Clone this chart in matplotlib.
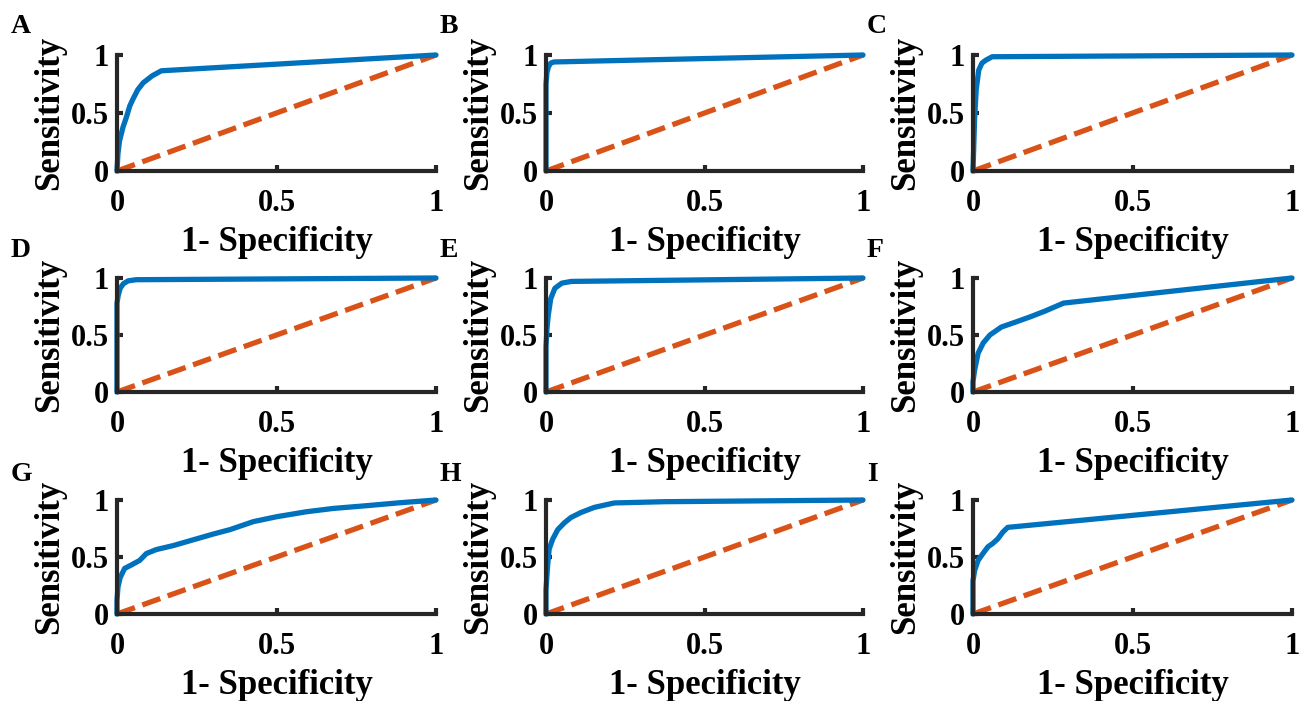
import numpy as np
import matplotlib
matplotlib.use('Agg')
import matplotlib.pyplot as plt

plt.rcParams['font.family'] = ['Liberation Serif', 'DejaVu Serif']
plt.rcParams['font.weight'] = 'bold'

# ROC curves (x = 1 - specificity, y = sensitivity)
fpr_A = [0, 0.003, 0.008, 0.019, 0.029, 0.04, 0.05, 0.065, 0.082, 0.11, 0.139, 1]
tpr_A = [0, 0.15, 0.26, 0.38, 0.46, 0.56, 0.62, 0.70, 0.76, 0.82, 0.864, 1]

fpr_B = [0, 0, 0.003, 0.008, 0.015, 0.025, 1]
tpr_B = [0, 0.75, 0.85, 0.9, 0.93, 0.94, 1]

fpr_C = [0, 0.005, 0.01, 0.018, 0.028, 0.04, 0.06, 1]
tpr_C = [0, 0.45, 0.7, 0.87, 0.93, 0.955, 0.985, 1]

fpr_D = [0, 0, 0.004, 0.01, 0.02, 0.035, 0.06, 1]
tpr_D = [0, 0.78, 0.85, 0.91, 0.95, 0.975, 0.985, 1]

fpr_E = [0, 0, 0.003, 0.007, 0.015, 0.028, 0.05, 0.08, 1]
tpr_E = [0, 0.4, 0.55, 0.67, 0.82, 0.91, 0.955, 0.97, 1]

fpr_F = [0, 0, 0.005, 0.016, 0.032, 0.053, 0.089, 0.13, 0.18, 0.226, 0.284, 1]
tpr_F = [0, 0.09, 0.19, 0.34, 0.43, 0.5, 0.57, 0.61, 0.66, 0.71, 0.78, 1]

fpr_G = [0, 0, 0.003, 0.01, 0.024, 0.045, 0.071, 0.092, 0.123, 0.176, 0.238,
         0.30, 0.354, 0.427, 0.5, 0.594, 0.678, 0.782, 0.887, 1]
tpr_G = [0, 0.12, 0.235, 0.32, 0.4, 0.43, 0.47, 0.53, 0.565, 0.60, 0.65,
         0.70, 0.74, 0.81, 0.853, 0.897, 0.926, 0.95, 0.976, 1]

fpr_H = [0, 0, 0.005, 0.01, 0.021, 0.037, 0.058, 0.079, 0.11, 0.152, 0.215, 0.372, 1]
tpr_H = [0, 0.215, 0.42, 0.57, 0.656, 0.74, 0.80, 0.847, 0.89, 0.935, 0.974, 0.985, 1]

fpr_I = [0, 0, 0.005, 0.016, 0.031, 0.047, 0.0625, 0.078, 0.094, 0.109, 1]
tpr_I = [0, 0.29, 0.38, 0.47, 0.53, 0.59, 0.62, 0.66, 0.72, 0.76, 1]

panels = ['A', 'B', 'C', 'D', 'E', 'F', 'G', 'H', 'I']
curves = [(fpr_A, tpr_A), (fpr_B, tpr_B), (fpr_C, tpr_C),
          (fpr_D, tpr_D), (fpr_E, tpr_E), (fpr_F, tpr_F),
          (fpr_G, tpr_G), (fpr_H, tpr_H), (fpr_I, tpr_I)]
chance = [0, 1]

W, H = 1307, 701
fig = plt.figure(figsize=(W / 100, H / 100), dpi=100)

cols = [(117, 436), (546, 863), (973, 1292)]
rows = [(55, 171), (278, 392), (500, 614)]
letter_x = [11, 440, 867]
letter_y = [33, 257, 481]

for k, name in enumerate(panels):
    r, c = divmod(k, 3)
    x0, x1 = cols[c]
    y0, y1 = rows[r]
    ax = fig.add_axes([x0 / W, 1 - y1 / H, (x1 - x0) / W, (y1 - y0) / H])
    fx, ty = curves[k]
    ax.plot(fx, ty, color='#0072BD', lw=3.8, clip_on=False, zorder=3,
            solid_joinstyle='round', solid_capstyle='round')
    ax.plot(chance, chance, color='#D95319', lw=3.8, dashes=(3.6, 1.5),
            clip_on=False, zorder=2)
    ax.set_xlim(0, 1)
    ax.set_ylim(0, 1)
    ax.set_xticks([0, 0.5, 1])
    ax.set_yticks([0, 0.5, 1])
    ax.set_xticklabels(['0', '0.5', '1'])
    ax.set_yticklabels(['0', '0.5', '1'])
    for s in ['top', 'right']:
        ax.spines[s].set_visible(False)
    for s in ['left', 'bottom']:
        ax.spines[s].set_linewidth(3)
        ax.spines[s].set_color('#262626')
        ax.spines[s].set_capstyle('projecting')
        ax.spines[s].set_zorder(4)
    ax.tick_params(axis='both', direction='in', length=4.5, width=3,
                   color='#262626', labelsize=22)
    ax.tick_params(axis='x', pad=13)
    ax.tick_params(axis='y', pad=6)
    ax.set_xlabel('1- Specificity', fontsize=25, fontweight='bold', labelpad=6)
    ax.set_ylabel('Sensitivity', fontsize=25, fontweight='bold', labelpad=3)
    ax.patch.set_visible(False)
    fig.text(letter_x[c] / W, 1 - letter_y[r] / H, name, fontsize=20,
             fontweight='bold', ha='left', va='baseline')

fig.savefig('out.png', dpi=100)
